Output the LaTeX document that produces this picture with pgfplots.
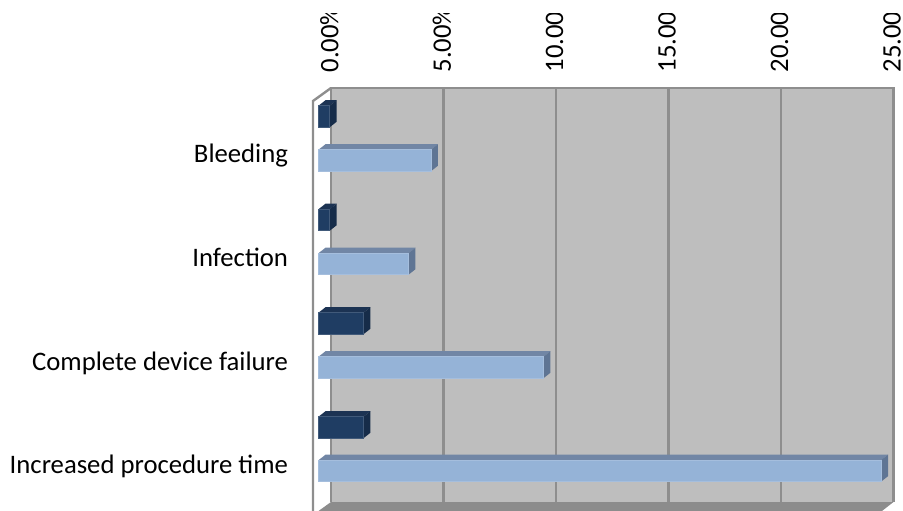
\documentclass[border=0pt]{standalone}
\usepackage{pgfplots}
\pgfplotsset{compat=1.18}
\usepackage{fontspec}
\setmainfont{Carlito}
\definecolor{wall}{HTML}{BEBEBE}
\definecolor{edge}{HTML}{8E8E8E}
\definecolor{floorc}{HTML}{8C8C8C}
\definecolor{dfront}{HTML}{1F3D63}
\definecolor{dtop}{HTML}{1C3353}
\definecolor{dside}{HTML}{162C49}
\definecolor{lfront}{HTML}{95B3D7}
\definecolor{ltop}{HTML}{7186A5}
\definecolor{lside}{HTML}{5F7594}
\begin{document}
\begin{tikzpicture}[x=1pt,y=1pt]
\path[use as bounding box] (0,0) rectangle (903,511);
\begin{axis}[
  at={(313pt,0pt)}, anchor=south west,
  scale only axis, width=580.5pt, height=423pt,
  xmin=-0.24444, xmax=25.55556, ymin=88, ymax=511, y dir=reverse,
  clip=false,
  axis line style={draw=none},
  major tick length=0pt,
  tick style={draw=none},
  xtick={0.5556,5.5556,10.5556,15.5556,20.5556,25.5556},
  xticklabels={0.00\%,5.00\%,10.00,15.00,20.00,25.00},
  xticklabel pos=top,
  xticklabel style={rotate=90, anchor=west, yshift=1.5pt, xshift=12pt, font=\fontsize{26.7}{26.7}\selectfont},
  ytick={162.7,266.5,370,473.5},
  yticklabels={Bleeding,Infection,Complete device failure,Increased procedure time},
  yticklabel style={anchor=base east, xshift=-21.5pt, font=\fontsize{26.7}{26.7}\selectfont},
]
% walls
\addplot[fill=wall, draw=none] coordinates {(0.5556,88) (25.5556,88) (25.5556,502) (0.5556,502)} --cycle;
\addplot[fill=floorc, draw=none] coordinates {(0.5556,502) (25.5556,502) (25.0444,511) (0,511)} --cycle;
% gridlines
\addplot[edge, line width=2.4pt] coordinates {(5.5556,88) (5.5556,502)};
\addplot[edge, line width=2.4pt] coordinates {(10.5556,88) (10.5556,502)};
\addplot[edge, line width=2.4pt] coordinates {(15.5556,88) (15.5556,502)};
\addplot[edge, line width=2.4pt] coordinates {(20.5556,88) (20.5556,502)};
% wall borders
\addplot[edge, line width=2.4pt] coordinates {(0.5556,502) (0.5556,88) (25.5556,88) (25.5556,502)};
\addplot[edge, line width=2.4pt] coordinates {(0.5556,88) (-0.2444,101) (-0.2444,511)};
% dark series
\addplot[fill=dtop, draw=none] coordinates {(0,105.7) (0.5,105.7) (0.811,100.2) (0.311,100.2)} --cycle;
\addplot[fill=dside, draw=none] coordinates {(0.5,105.7) (0.811,100.2) (0.811,121.7) (0.5,127.2)} --cycle;
\addplot[fill=dtop, draw=none] coordinates {(0,209.2) (0.5,209.2) (0.811,203.7) (0.311,203.7)} --cycle;
\addplot[fill=dside, draw=none] coordinates {(0.5,209.2) (0.811,203.7) (0.811,225.2) (0.5,230.7)} --cycle;
\addplot[fill=dtop, draw=none] coordinates {(0,312.7) (2,312.7) (2.311,307.2) (0.311,307.2)} --cycle;
\addplot[fill=dside, draw=none] coordinates {(2,312.7) (2.311,307.2) (2.311,328.7) (2,334.2)} --cycle;
\addplot[fill=dtop, draw=none] coordinates {(0,416.7) (2,416.7) (2.311,411.2) (0.311,411.2)} --cycle;
\addplot[fill=dside, draw=none] coordinates {(2,416.7) (2.311,411.2) (2.311,432.7) (2,438.2)} --cycle;
\addplot[xbar, bar width=21.5pt, bar shift=0pt, fill=dfront, draw=dfront!85!white, line width=0.6pt]
  coordinates {(0.5,116.45) (0.5,219.95) (2,323.45) (2,427.45)};
% light series
\addplot[fill=ltop, draw=none] coordinates {(0,149.7) (5,149.7) (5.311,144.2) (0.311,144.2)} --cycle;
\addplot[fill=lside, draw=none] coordinates {(5,149.7) (5.311,144.2) (5.311,165.7) (5,171.2)} --cycle;
\addplot[fill=ltop, draw=none] coordinates {(0,253.2) (4,253.2) (4.311,247.7) (0.311,247.7)} --cycle;
\addplot[fill=lside, draw=none] coordinates {(4,253.2) (4.311,247.7) (4.311,269.2) (4,274.7)} --cycle;
\addplot[fill=ltop, draw=none] coordinates {(0,356.7) (10,356.7) (10.311,351.2) (0.311,351.2)} --cycle;
\addplot[fill=lside, draw=none] coordinates {(10,356.7) (10.311,351.2) (10.311,372.7) (10,378.2)} --cycle;
\addplot[fill=ltop, draw=none] coordinates {(0,460.2) (25,460.2) (25.311,454.7) (0.311,454.7)} --cycle;
\addplot[fill=lside, draw=none] coordinates {(25,460.2) (25.311,454.7) (25.311,476.2) (25,481.7)} --cycle;
\addplot[xbar, bar width=21.5pt, bar shift=0pt, fill=lfront, draw=lfront!85!white, line width=0.6pt]
  coordinates {(5,160.45) (4,263.95) (10,367.45) (25,470.95)};
\end{axis}
\fill[white] (0,498) rectangle (903,560);
\end{tikzpicture}
\end{document}
